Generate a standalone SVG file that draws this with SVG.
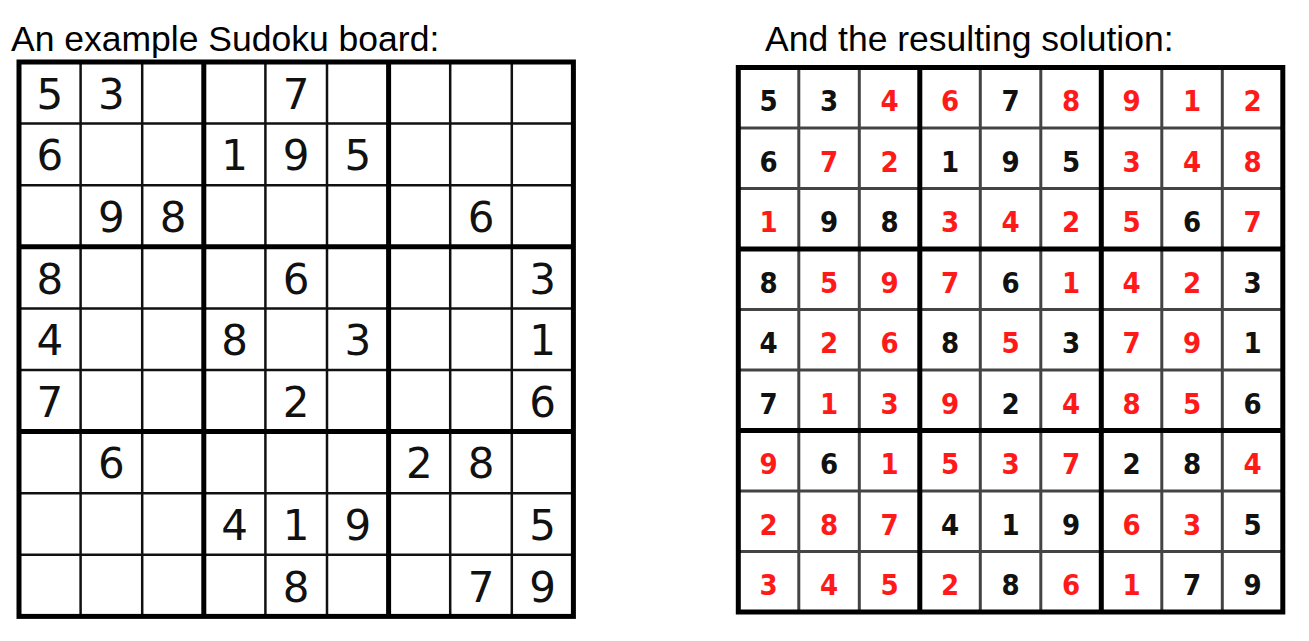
<svg xmlns="http://www.w3.org/2000/svg" width="1309" height="641" viewBox="0 0 1309 641">
<style>
.title{font-family:"Liberation Sans",Arial,sans-serif;font-size:35.5px;fill:#000}
.thinL{stroke:#111;stroke-width:2.5;fill:none}
.thickL{stroke:#000;stroke-width:5;fill:none}
.thinR{stroke:#444;stroke-width:3;fill:none}
.thickR{stroke:#000;stroke-width:5;fill:none}
.dL{font-family:"DejaVu Sans",sans-serif;font-size:42px;fill:#111;text-anchor:middle}
.dR{font-family:"DejaVu Sans Condensed","DejaVu Sans",sans-serif;font-weight:bold;font-size:29px;text-anchor:middle}
.g{fill:#111}
.r{fill:#ff1a1a}
</style>
<rect width="1309" height="641" fill="#fff"/>
<g id="title-left"><text class="title" x="11" y="51">An example Sudoku board:</text></g>
<g id="title-right"><text class="title" x="765" y="51">And the resulting solution:</text></g>
<g id="board-left">
<path class="thinL" d="M80.6 62V616.4M142.2 62V616.4M265.4 62V616.4M327 62V616.4M450.2 62V616.4M511.8 62V616.4M19 123.6H573.4M19 185.2H573.4M19 308.4H573.4M19 370H573.4M19 493.2H573.4M19 554.8H573.4"/>
<path class="thickL" d="M203.8 62V616.4M388.6 62V616.4M19 246.8H573.4M19 431.6H573.4"/>
<rect class="thickL" x="19" y="62" width="554.4" height="554.4"/>
<g class="dL">
<text x="49.8" y="108.8">5</text><text x="111.4" y="108.8">3</text><text x="296.2" y="108.8">7</text>
<text x="49.8" y="170.4">6</text><text x="234.6" y="170.4">1</text><text x="296.2" y="170.4">9</text><text x="357.8" y="170.4">5</text>
<text x="111.4" y="232">9</text><text x="173" y="232">8</text><text x="481" y="232">6</text>
<text x="49.8" y="293.6">8</text><text x="296.2" y="293.6">6</text><text x="542.6" y="293.6">3</text>
<text x="49.8" y="355.2">4</text><text x="234.6" y="355.2">8</text><text x="357.8" y="355.2">3</text><text x="542.6" y="355.2">1</text>
<text x="49.8" y="416.8">7</text><text x="296.2" y="416.8">2</text><text x="542.6" y="416.8">6</text>
<text x="111.4" y="478.4">6</text><text x="419.4" y="478.4">2</text><text x="481" y="478.4">8</text>
<text x="234.6" y="540">4</text><text x="296.2" y="540">1</text><text x="357.8" y="540">9</text><text x="542.6" y="540">5</text>
<text x="296.2" y="601.6">8</text><text x="481" y="601.6">7</text><text x="542.6" y="601.6">9</text>
</g>
</g>
<g id="board-right">
<path class="thinR" d="M798.8 67.5V612M859.3 67.5V612M980.3 67.5V612M1040.8 67.5V612M1161.8 67.5V612M1222.3 67.5V612M738.3 128H1282.8M738.3 188.5H1282.8M738.3 309.5H1282.8M738.3 370H1282.8M738.3 491H1282.8M738.3 551.5H1282.8"/>
<path class="thickR" d="M919.8 67.5V612M1101.3 67.5V612M738.3 249H1282.8M738.3 430.5H1282.8"/>
<rect class="thickR" x="738.3" y="67.5" width="544.5" height="544.5"/>
<g class="dR">
<text class="g" x="768.55" y="111">5</text><text class="g" x="829.05" y="111">3</text><text class="r" x="889.55" y="111">4</text><text class="r" x="950.05" y="111">6</text><text class="g" x="1010.55" y="111">7</text><text class="r" x="1071.05" y="111">8</text><text class="r" x="1131.55" y="111">9</text><text class="r" x="1192.05" y="111">1</text><text class="r" x="1252.55" y="111">2</text>
<text class="g" x="768.55" y="171.5">6</text><text class="r" x="829.05" y="171.5">7</text><text class="r" x="889.55" y="171.5">2</text><text class="g" x="950.05" y="171.5">1</text><text class="g" x="1010.55" y="171.5">9</text><text class="g" x="1071.05" y="171.5">5</text><text class="r" x="1131.55" y="171.5">3</text><text class="r" x="1192.05" y="171.5">4</text><text class="r" x="1252.55" y="171.5">8</text>
<text class="r" x="768.55" y="232">1</text><text class="g" x="829.05" y="232">9</text><text class="g" x="889.55" y="232">8</text><text class="r" x="950.05" y="232">3</text><text class="r" x="1010.55" y="232">4</text><text class="r" x="1071.05" y="232">2</text><text class="r" x="1131.55" y="232">5</text><text class="g" x="1192.05" y="232">6</text><text class="r" x="1252.55" y="232">7</text>
<text class="g" x="768.55" y="292.5">8</text><text class="r" x="829.05" y="292.5">5</text><text class="r" x="889.55" y="292.5">9</text><text class="r" x="950.05" y="292.5">7</text><text class="g" x="1010.55" y="292.5">6</text><text class="r" x="1071.05" y="292.5">1</text><text class="r" x="1131.55" y="292.5">4</text><text class="r" x="1192.05" y="292.5">2</text><text class="g" x="1252.55" y="292.5">3</text>
<text class="g" x="768.55" y="353">4</text><text class="r" x="829.05" y="353">2</text><text class="r" x="889.55" y="353">6</text><text class="g" x="950.05" y="353">8</text><text class="r" x="1010.55" y="353">5</text><text class="g" x="1071.05" y="353">3</text><text class="r" x="1131.55" y="353">7</text><text class="r" x="1192.05" y="353">9</text><text class="g" x="1252.55" y="353">1</text>
<text class="g" x="768.55" y="413.5">7</text><text class="r" x="829.05" y="413.5">1</text><text class="r" x="889.55" y="413.5">3</text><text class="r" x="950.05" y="413.5">9</text><text class="g" x="1010.55" y="413.5">2</text><text class="r" x="1071.05" y="413.5">4</text><text class="r" x="1131.55" y="413.5">8</text><text class="r" x="1192.05" y="413.5">5</text><text class="g" x="1252.55" y="413.5">6</text>
<text class="r" x="768.55" y="474">9</text><text class="g" x="829.05" y="474">6</text><text class="r" x="889.55" y="474">1</text><text class="r" x="950.05" y="474">5</text><text class="r" x="1010.55" y="474">3</text><text class="r" x="1071.05" y="474">7</text><text class="g" x="1131.55" y="474">2</text><text class="g" x="1192.05" y="474">8</text><text class="r" x="1252.55" y="474">4</text>
<text class="r" x="768.55" y="534.5">2</text><text class="r" x="829.05" y="534.5">8</text><text class="r" x="889.55" y="534.5">7</text><text class="g" x="950.05" y="534.5">4</text><text class="g" x="1010.55" y="534.5">1</text><text class="g" x="1071.05" y="534.5">9</text><text class="r" x="1131.55" y="534.5">6</text><text class="r" x="1192.05" y="534.5">3</text><text class="g" x="1252.55" y="534.5">5</text>
<text class="r" x="768.55" y="595">3</text><text class="r" x="829.05" y="595">4</text><text class="r" x="889.55" y="595">5</text><text class="r" x="950.05" y="595">2</text><text class="g" x="1010.55" y="595">8</text><text class="r" x="1071.05" y="595">6</text><text class="r" x="1131.55" y="595">1</text><text class="g" x="1192.05" y="595">7</text><text class="g" x="1252.55" y="595">9</text>
</g>
</g>
</svg>
